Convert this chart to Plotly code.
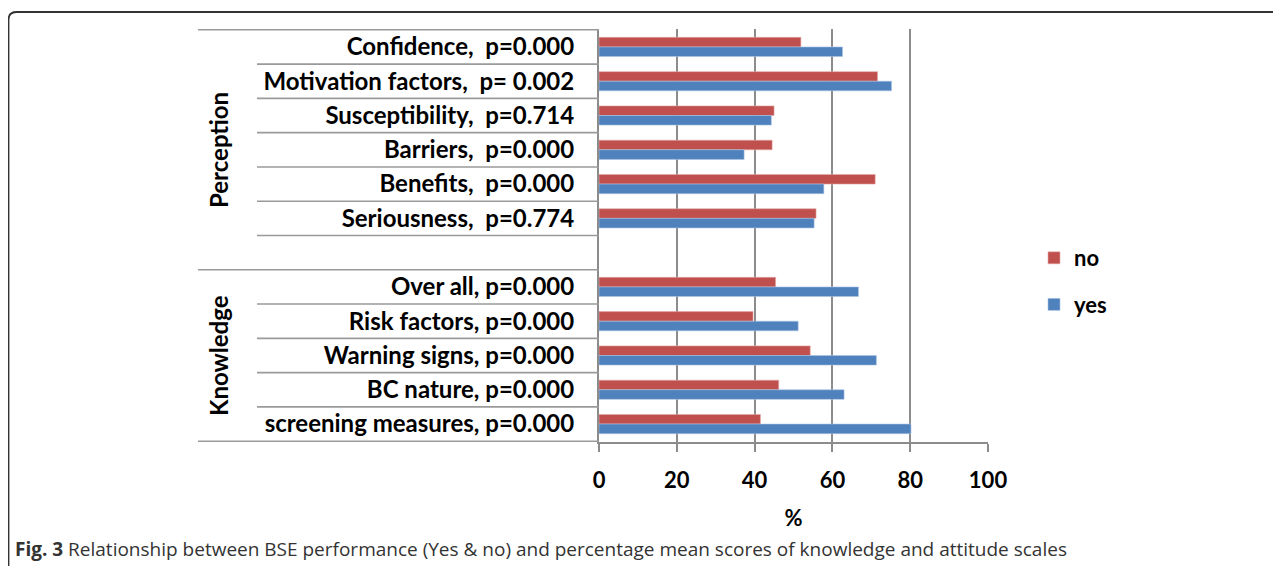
import plotly.graph_objects as go

# categories from top to bottom; the blank one separates the two groups
labels = ["Confidence,\u00a0 p=0.000", "Motivation factors,\u00a0 p= 0.002", "Susceptibility,\u00a0 p=0.714",
          "Barriers,\u00a0 p=0.000", "Benefits,\u00a0 p=0.000", "Seriousness,\u00a0 p=0.774", "\u00a0",
          "Over all, p=0.000", "Risk factors, p=0.000", "Warning signs, p=0.000",
          "BC nature, p=0.000", "screening measures, p=0.000"]
no_vals = [51.9, 71.6, 45.0, 44.5, 71.0, 55.8, None, 45.4, 39.6, 54.3, 46.2, 41.5]
yes_vals = [62.6, 75.2, 44.3, 37.3, 57.8, 55.3, None, 66.7, 51.2, 71.3, 63.0, 80.2]
x_ticks = [0, 20, 40, 60, 80, 100]
groups = [("Perception", 150), ("Knowledge", 356)]

# page offset of the figure (browser body margin)
OX = OY = 8
W, H = 1281, 566
L, T = 599 - OX, 29 - OY
PW, PH = 389, 413
R, B = W - L - PW, H - T - PH

def xp(px):
    # page pixel -> paper x
    return (px - OX - L) / PW

def yp(py):
    # page pixel -> paper y
    return (T + PH - (py - OY)) / PH

FONT = "Lato, Open Sans, sans-serif"
GRID = "#8c8c8c"

fig = go.Figure()
fig.add_trace(go.Bar(y=labels, x=no_vals, name="<b>no</b>", orientation="h",
                     marker=dict(color="#C0504D", line=dict(color="#e3a9a8", width=0.6)),
                     legendgroup="no"))
fig.add_trace(go.Bar(y=labels, x=yes_vals, name="<b>yes</b>", orientation="h",
                     marker=dict(color="#4F81BD", line=dict(color="#a9c2e3", width=0.6)),
                     legendgroup="yes"))

shapes = []
# row separators in the label area
n = len(labels)
for i in range(n + 1):
    pos = i - 0.5
    x0 = xp(198) if i in (0, 7, n) else xp(257)
    shapes.append(dict(type="line", xref="paper", yref="y", x0=x0, x1=0, y0=pos, y1=pos,
                       line=dict(color="#9a9a9a", width=1.6)))
# frame round the figure
shapes.append(dict(type="path", xref="paper", yref="paper",
                   path=f"M {xp(8.5)},{yp(575)} L {xp(8.5)},{yp(20)} Q {xp(8.5)},{yp(12)} {xp(16.5)},{yp(12)} L {xp(1300)},{yp(12)}",
                   line=dict(color="#333333", width=1.8)))

annotations = []
for name, cy in groups:
    annotations.append(dict(text=f"<b>{name}</b>", xref="paper", yref="paper", x=xp(218), y=yp(cy),
                            textangle=-90, showarrow=False, font=dict(family=FONT, size=24, color="black"),
                            xanchor="center", yanchor="middle"))
annotations.append(dict(text="<b>Fig. 3</b> Relationship between BSE performance (Yes & no) and percentage mean scores of knowledge and attitude scales",
                        xref="paper", yref="paper", x=xp(13), y=yp(549), xanchor="left", yanchor="middle",
                        showarrow=False, font=dict(family="Open Sans, sans-serif", size=19, color="#333333")))

fig.update_layout(
    width=W, height=H,
    margin=dict(l=L, r=R, t=T, b=B),
    plot_bgcolor="white", paper_bgcolor="white",
    barmode="group", bargap=0.44, bargroupgap=0,
    font=dict(family=FONT, size=22, color="black"),
    legend=dict(x=xp(1034), y=yp(237), xanchor="left", yanchor="top",
                font=dict(family=FONT, size=22, color="black"),
                tracegroupgap=15, itemwidth=30),
    shapes=shapes, annotations=annotations,
)
fig.update_xaxes(range=[0, 100], tickvals=x_ticks, ticktext=[f"<b>{v}</b>" for v in x_ticks],
                 showgrid=True, gridcolor=GRID, gridwidth=2,
                 showline=True, linecolor=GRID, linewidth=2,
                 ticks="outside", ticklen=8, tickcolor=GRID, tickwidth=2,
                 ticklabelstandoff=10, zeroline=False,
                 title=dict(text="<b>%</b>", standoff=18, font=dict(family=FONT, size=22)))
fig.update_yaxes(autorange="reversed", categoryorder="array", categoryarray=labels,
                 tickvals=labels, ticktext=[f"<b>{t}</b>" for t in labels],
                 tickfont=dict(family=FONT, size=24),
                 showgrid=False, showline=True, linecolor=GRID, linewidth=2,
                 ticks="", ticklabelstandoff=18, zeroline=False)

fig.write_html("out.html")
